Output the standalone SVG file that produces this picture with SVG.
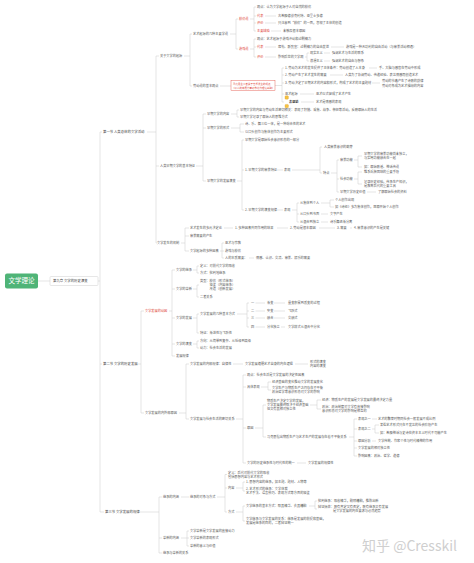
<svg xmlns="http://www.w3.org/2000/svg" width="474" height="563" viewBox="0 0 474 563">
<style>
text{font-family:"Noto Sans CJK SC","Noto Sans",sans-serif;font-size:3.2px;fill:#5a5a5a}
.s{font-size:3.4px;fill:#444}
.r{fill:#e0463a}
.b{font-weight:bold;fill:#333}
.rb{font-size:2.5px;fill:#e0463a}
.root{font-size:6.5px;fill:#fff}
.wm{font-size:14px;fill:#cfcfcf}
#connectors path{stroke:#c8c8c8;stroke-width:0.5;fill:none}
.ic{fill:#f6c343;stroke:#d99a1e;stroke-width:0.3}
</style>
<rect width="474" height="563" fill="#fff"/>
<g id="connectors">
<path d="M38 281H50M98 281H100M100 132V512M100 132H102M100 364H102M100 512H104"/>
<path d="M147 132H156M156 56V243M156 56H159M156 166H159M156 243H157"/>
<path d="M184 56H190M190 34V86M190 34H192M190 86H192M230 34H236M236 19V49M236 19H238M236 49H238"/>
<path d="M250 19H254M254 7V31M254 7H256M254 16H256M254 23H256M254 31H256M265 16H276M265 23H276M271 31H281"/>
<path d="M250 49H254M254 39V57M254 39H256M254 47H256M254 57H256M265 47H276M331 47H344M265 57H276M305 57H307M307 53V61M307 53H309M307 61H309M324 53H330M324 61H330"/>
<path d="M220 86H231M275 85.5H282M282 68V102M282 68H284M282 75H284M282 83H284M282 94H284M282 102H284M369 68H377M330 75H343M372 83H380M300 94H314M301 102H314"/>
<path d="M196 166H203M203 114V181M203 114H206M203 128H206M203 181H206M231 114H237M237 110V117M237 110H239M237 117H239M231 128H240M240 124V132M240 124H244M240 132H244"/>
<path d="M237 181H242M242 140V210M242 140H244M242 170H244M242 210H244M277 170H283M292 170H320M320 147V173M320 147H322M320 173H322M331 173H337M337 160V192M337 160H339M337 179H339M337 192H339"/>
<path d="M354 160H358M358 156V167M358 156H362M358 167H362M354 179H358M358 172V184M358 172H362M358 184H362M367 192H376"/>
<path d="M277 210H283M292 210H297M297 203V222M297 203H299M297 214H299M297 222H299M321 203H330M330 200V207M330 200H334M330 207H334M321 214H328M321 222H328"/>
<path d="M181 243H185M185 228V251M185 228H189M185 236H189M185 251H189M224 228H233M277 228H288M319 228H335M350 228H352M220 251H222M222 243V258M222 243H224M222 251H224M222 258H224M249 258H254"/>
<path d="M137 364H141M141 311V413M141 311H144M141 413H144M169 311H172M172 270V356M172 270H175M172 289H175M172 318H175M172 344H175M172 356H175"/>
<path d="M193 270H197M197 266V273M197 266H199M197 273H199M193 289H197M197 285V297M197 285H199M197 297H199M193 318H197M197 314V333M197 314H199M197 333H199M193 344H197M197 341V348M197 341H199M197 348H199"/>
<path d="M237 314H247M247 303V327M247 303H249M247 311H249M247 318H249M247 327H249M255.5 303H265M255.5 311H265M255.5 318H265M255.5 327H265M274 303H285M274 311H285M274 318H285M281 327H285"/>
<path d="M179 413H186M186 364V419M186 364H189M186 419H189M233 364H243M295 364H308M236 419H243M243 375V463M243 375H246M243 387H246M243 428H246M243 463H246"/>
<path d="M261 387H268M268 382V390M268 382H271M268 390H271M255 428H263M263 405V437M263 405H266M263 437H266M310 405H317M317 400V409M317 400H321M317 409H321"/>
<path d="M349 437H354M354 419V456M354 419H357M354 429H357M354 441H357M354 448H357M354 456H357M372 419H377M372 429H375M375 425V433M375 425H379M375 433H379M372 441H376M297 463H306"/>
<path d="M139 512H159M159 497V553M159 497H162M159 538H162M159 553H162M181 497H189M217 497H225M225 474.5V512M225 474.5H227M225 488H227M225 512H227"/>
<path d="M236 488H243M243 482V491M243 482H245M243 491H245M236 512H243M243 506V521M243 506H245M243 521H245M309 506H315M315 501V509M315 501H317M315 509H317"/>
<path d="M181 538H187M187 531V546M187 531H189M187 538H189M187 546H189"/>
</g>

<g id="root"><rect x="5" y="273.5" width="33" height="15" rx="2" fill="#4fb477"/><text class="root" x="21.5" y="283.4" text-anchor="middle">文学理论</text></g>
<g id="chapter"><rect x="50" y="276.5" width="48" height="9" rx="1" fill="#fff" stroke="#cfcfcf" stroke-width="0.5"/><text class="s" x="53" y="282.2">第九章 文学的历史演变</text></g>

<g id="s1"><text class="s" x="103" y="133.2">第一节 人类总体的文学活动</text></g>
<g id="a1"><text x="160" y="57.2">关于文学的起源</text></g>
<g id="a1a"><text x="193" y="35.2">艺术起源的几种主要学说</text></g>
<g id="r1"><text class="r" x="239" y="20.2">模仿说</text></g>
<g id="r1-1"><text x="257" y="8.2">观点：认为文学起源于人对自然的模仿</text></g>
<g id="r1-2"><text class="r" x="257" y="17.2">代表</text><text x="278" y="17.2">古希腊德谟克利特、亚里士多德</text></g>
<g id="r1-3"><text class="r" x="257" y="24.2">评价</text><text x="278" y="24.2">只注意到“模仿”的一面，忽视了主体的创造</text></g>
<g id="r1-4"><text class="r" x="257" y="32.2">主要缺陷</text><text x="283" y="32.2">未触及根本原因</text></g>
<g id="r2"><text class="r" x="239" y="50.2">游戏说</text></g>
<g id="r2-1"><text x="257" y="40.2">观点：艺术起源于游戏冲动和过剩精力</text></g>
<g id="r2-2"><text class="r" x="257" y="48.2">代表</text><text x="278" y="48.2">席勒、斯宾塞：过剩精力的自由发泄</text><text x="346" y="48.2">游戏是一种无功利的自由活动（与审美活动相通）</text></g>
<g id="r2-3"><text class="r" x="257" y="58.2">评价</text><text x="278" y="58.2">影响后世的文学观</text></g>
<g id="r2-3a"><text x="310" y="54.2">现实主义</text><text x="332" y="54.2">强调艺术与生活的联系</text></g>
<g id="r2-3b"><text x="310" y="62.2">浪漫主义</text><text x="332" y="62.2">强调艺术的自由与想象</text></g>
<g id="a1b"><text x="193" y="87.2">劳动说的基本观点</text></g>
<g id="a1b-box"><rect x="231" y="80.5" width="44" height="10" fill="none" stroke="#e0463a" stroke-width="0.4"/><text class="rb" x="233" y="84.6">马克思主义者关于艺术发生的观点</text><text class="rb" x="232" y="88.8">（以人的本质力量对象化为理论基础）</text></g>
<g id="a1b-1"><text x="285" y="69.2">1. 劳动为艺术的发生提供了主体条件：劳动创造了人本身</text><text x="379" y="69.2">手、大脑与感官在劳动中形成</text></g>
<g id="a1b-2"><text x="285" y="76.2">2. 劳动产生了艺术发生的需要</text><text x="345" y="76.2">人类为了协调劳动、传递经验、表达情感而创造艺术</text></g>
<g id="a1b-3"><text x="285" y="84.2">3. 劳动决定了早期艺术的内容和形式，构成了艺术的主要题材</text><text x="382" y="82.2">劳动的节奏产生了诗歌的韵律</text><text x="382" y="86.7">劳动对象成为艺术描绘的内容</text></g>
<g id="a1b-4"><text x="285" y="95.2">巫术起源</text><text x="316" y="95.2">巫术仪式促成了艺术产生</text></g>
<g id="a1b-5"><rect class="ic" x="285" y="95.8" width="3.4" height="3.4" rx="0.8"/><text class="b" x="289" y="103.2">表现说</text><rect class="ic" x="285" y="104.4" width="3.4" height="3.4" rx="0.8"/><text x="316" y="103.2">艺术是情感的表现</text></g>

<g id="a2"><text x="160" y="167.2">人类早期文学的基本特征</text></g>
<g id="b1"><text x="207" y="115.2">早期文学的内容</text></g>
<g id="b1-1"><text x="240" y="111.2">早期文学的内容与劳动生活密切相关：表现了狩猎、采集、战争、祭祀等活动，反映原始人的生活</text></g>
<g id="b1-2"><text x="240" y="118.2">早期文学记录了原始人的思维方式</text></g>
<g id="b2"><text x="207" y="129.2">早期文学的形式</text></g>
<g id="b2-1"><text x="245" y="125.2">诗、乐、舞三位一体，是一种综合性的艺术</text></g>
<g id="b2-2"><text x="245" y="133.2">以口头创作与集体创作为主要形式</text></g>
<g id="b3"><text x="207" y="182.2">早期文学的发展演变</text></g>
<g id="b3-1"><text x="245" y="141.2">早期文学是原始社会意识形态的一部分</text></g>
<g id="b3-2"><text x="245" y="171.2">1. 早期文学的审美特征</text><text x="284" y="171.2">表现</text></g>
<g id="b3-2a"><text x="324" y="148.2">人类审美意识的萌芽</text></g>
<g id="b3-2b"><text x="323" y="174.2">特点</text></g>
<g id="b3-2b1"><text x="340" y="161.2">审美功能</text></g>
<g id="b3-2b1a"><text x="364" y="155.2">早期文学的审美功能尚未独立，</text><text x="364" y="159.2">与实用功能融合在一起</text></g>
<g id="b3-2b1b"><text x="364" y="168.2">如：原始歌谣、神话传说</text></g>
<g id="b3-2b2"><text x="340" y="180.2">社会功能</text></g>
<g id="b3-2b2a"><text x="364" y="173.2">维系氏族团结的重要手段</text></g>
<g id="b3-2b2b"><text x="364" y="183.2">记录历史经验，传承生产知识，</text><text x="364" y="187.2">是教育后代的重要工具</text></g>
<g id="b3-2b3"><text x="340" y="193.2">早期文学历史价值</text><text x="378" y="193.2">了解原始社会的资料</text></g>
<g id="b3-3"><text x="245" y="211.2">2. 早期文学的演变规律</text><text x="284" y="211.2">表现</text></g>
<g id="b3-3a"><text x="300" y="204.2">从集体到个人</text></g>
<g id="b3-3a1"><text x="335" y="201.2">个人创作出现</text></g>
<g id="b3-3a2"><text x="335" y="208.2">如《诗经》多为集体创作，屈原开始个人创作</text></g>
<g id="b3-3b"><text x="300" y="215.2">从口头到书面</text><text x="330" y="215.2">文字产生</text></g>
<g id="b3-3c"><text x="300" y="223.2">从混合到独立</text><text x="330" y="223.2">诗乐舞逐渐分离</text></g>

<g id="a3"><text x="157" y="244.2">文学发生的机制</text></g>
<g id="a3-1"><text x="190" y="229.2">艺术发生的多元决定论</text><text x="235" y="229.2">1. 多种因素共同作用的结果</text><text x="290" y="229.2">2. 劳动是根本原因</text><text x="337" y="229.2">3. 需要</text><text x="354" y="229.2">4. 审美意识的产生是关键</text></g>
<g id="a3-2"><text x="190" y="237.2">审美需要的产生</text></g>
<g id="a3-3"><text x="190" y="252.2">文学起源的多种因素</text></g>
<g id="a3-3a"><text x="225" y="244.2">巫术与宗教</text></g>
<g id="a3-3b"><text x="225" y="252.2">游戏与模仿</text></g>
<g id="a3-3c"><text x="225" y="259.2">人的本质需要：</text><text x="256" y="259.2">情感、认识、交流、审美、娱乐的需要</text></g>

<g id="s2"><text class="s" x="103" y="365.2">第二节 文学的历史发展</text></g>
<g id="c1"><text class="r" x="145" y="312.2">文学发展的动因</text></g>
<g id="c1-1"><text x="176" y="271.2">文学的继承</text></g>
<g id="c1-1a"><text x="200" y="267.2">定义：对前代文学的吸收</text></g>
<g id="c1-1b"><text x="200" y="274.2">方式：批判地继承</text></g>
<g id="c1-2"><text x="176" y="290.2">文学的革新</text></g>
<g id="c1-2a"><text x="200" y="282.2">类型：模仿（形式继承）</text><text x="209.6" y="286.2">借鉴（内容继承）</text><text x="209.6" y="290.2">改造（创新发展）</text></g>
<g id="c1-2b"><text x="200" y="298.2">二者关系</text></g>
<g id="c1-3"><text x="176" y="319.2">文学的发展</text></g>
<g id="c1-3a"><text x="200" y="315.2">文学发展的几种基本方式</text></g>
<g id="c1-3a1"><text x="251" y="304.2">一</text><text x="267" y="304.2">渐变</text><text x="288" y="304.2">量变积累到质变的过程</text></g>
<g id="c1-3a2"><text x="251" y="312.2">二</text><text x="267" y="312.2">突变</text><text x="288" y="312.2">飞跃式</text></g>
<g id="c1-3a3"><text x="251" y="319.2">三</text><text x="267" y="319.2">融合</text><text x="288" y="319.2">交融式</text></g>
<g id="c1-3a4"><text x="251" y="328.2">四</text><text x="267" y="328.2">分化独立</text><text x="288" y="328.2">文学样式从混合中分化</text></g>
<g id="c1-3b"><text x="200" y="334.2">特征：渐进性与飞跃性</text></g>
<g id="c1-4"><text x="176" y="345.2">文学的演变</text></g>
<g id="c1-4a"><text x="200" y="342.2">方向：从简单到复杂、从低级到高级</text></g>
<g id="c1-4b"><text x="200" y="349.2">动力：社会生活的发展</text></g>
<g id="c1-5"><text x="176" y="357.2">发展规律</text></g>

<g id="c2"><text x="145" y="414.2">文学发展的内外部原因</text></g>
<g id="c2-1"><text x="190" y="365.2">文学发展的内部规律：自律性</text><text x="245" y="365.2">文学发展遵循艺术自身的内在逻辑</text><text x="310" y="363.2">形式的演变</text><text x="310" y="367.2">内容的演变</text></g>
<g id="c2-2"><text x="190" y="420.2">文学发展与社会生活的密切关系</text></g>
<g id="c2-2a"><text x="247" y="376.2">观点：社会生活是文学发展的决定性因素</text></g>
<g id="c2-2b"><text x="247" y="388.2">具体表现</text></g>
<g id="c2-2b1"><text x="272" y="383.2">经济基础的变化推动文学的发展变化</text></g>
<g id="c2-2b2"><text x="272" y="389.2">文学生产与物质生产之间存在不平衡</text><text x="272" y="393.2">政治哲学等意识形态对文学的影响</text></g>
<g id="c2-2c"><text x="247" y="429.2">原因</text></g>
<g id="c2-2c1"><text x="267" y="402.2">物质生产决定文学的发展，</text><text x="267" y="406.2">文学发展最终取决于经济基础</text><text x="267" y="410.2">但又有其相对独立性</text></g>
<g id="c2-2c1a"><text x="322" y="401.2">经济：物质生产的发展是文学发展的最终决定力量</text></g>
<g id="c2-2c1b"><text x="322" y="408.2">政治：政治制度对文学有直接影响</text><text x="322" y="412.2">意识形态对文学的影响是相互的</text></g>
<g id="c2-2c2"><text x="267" y="438.2">马克思指出物质生产与艺术生产的发展存在着不平衡关系</text></g>
<g id="c2-2c2a"><text x="358" y="420.2">表现之一</text><text x="378" y="420.2">艺术的繁荣时期同社会一般发展不成比例</text></g>
<g id="c2-2c2b"><text x="358" y="430.2">表现之二</text></g>
<g id="c2-2c2b1"><text x="380" y="426.2">某些艺术形式只在不发达的社会阶段产生</text></g>
<g id="c2-2c2b2"><text x="380" y="434.2">如：希腊神话与史诗在资本主义时代不可能产生</text></g>
<g id="c2-2c2c"><text x="358" y="442.2">原因分析</text><text x="378" y="442.2">文学传统、作家个性与时代精神的作用</text></g>
<g id="c2-2c2d"><text x="358" y="449.2">文学发展的相对独立性</text></g>
<g id="c2-2c2e"><text x="358" y="457.2">影响因素：政治、哲学、道德</text></g>
<g id="c2-2d"><text x="247" y="464.2">文学的历史继承性与时代性的统一</text><text x="308" y="464.2">文学发展的规律性</text></g>

<g id="s3"><text class="s" x="105" y="513.2">第三节 文学发展的规律</text></g>
<g id="d1"><text x="163" y="498.2">继承的内涵</text></g>
<g id="d1a"><text x="190" y="498.2">继承的对象与方式</text></g>
<g id="d1a1"><text x="228" y="473.7">定义：后代对前代文学的吸收</text><text x="228" y="477.7">包括思想内容与艺术形式</text></g>
<g id="d1a2"><text x="228" y="489.2">内容</text></g>
<g id="d1a2a"><text x="246" y="483.2">1. 思想内容的继承，如主题、题材、人物等</text></g>
<g id="d1a2b"><text x="246" y="490.2">2. 艺术形式的继承：文学体裁</text><text x="246" y="494.2">艺术手法、语言技巧、表现方式等方面的借鉴</text></g>
<g id="d1a3"><text x="228" y="513.2">方式</text></g>
<g id="d1a3a"><text x="246" y="507.2">文学继承的基本方式：取其精华、去其糟粕</text></g>
<g id="d1a3a1"><text x="318" y="502.2">批判继承：吸收精华，剔除糟粕，推陈出新</text></g>
<g id="d1a3a2"><text x="318" y="508.2">辩证扬弃：既有肯定又有否定，既有继承又有发展</text><text x="333" y="512.2">是文学发展的内在要求与必然趋势</text></g>
<g id="d1a3b"><text x="246" y="520.2">文学继承与文学发展的关系：继承是发展的前提和基础，</text><text x="246" y="524.2">发展是继承的目的，二者辩证统一</text></g>
<g id="d2"><text x="163" y="539.2">革新的内涵</text></g>
<g id="d2a"><text x="190" y="532.2">文学革新是文学发展的直接动力</text></g>
<g id="d2b"><text x="190" y="539.2">文学革新的表现形式</text></g>
<g id="d2c"><text x="190" y="547.2">革新的意义与价值</text></g>
<g id="d3"><text x="163" y="554.2">继承与革新的关系</text></g>

<g id="watermark"><text class="wm" x="362" y="551">知乎 @Cresskil</text></g>
</svg>
